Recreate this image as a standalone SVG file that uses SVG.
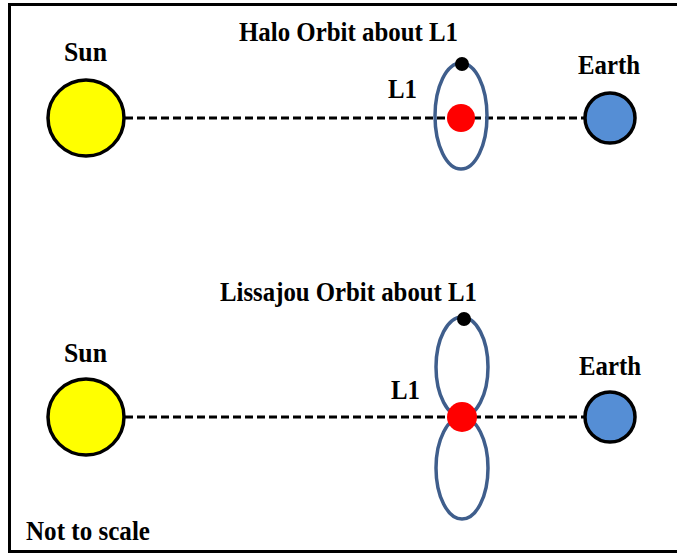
<svg xmlns="http://www.w3.org/2000/svg" width="677" height="554" viewBox="0 0 677 554">
<style>
.t{font-family:"Liberation Serif","Times New Roman",serif;font-weight:bold;fill:#000;font-size:27px}
.sun{fill:#ffff00;stroke:#000;stroke-width:3.5}
.earth{fill:#558ed5;stroke:#000;stroke-width:3.5}
.orb{fill:none;stroke:#3f5e8c;stroke-width:3.5}
.dash{stroke:#000;stroke-width:3;stroke-dasharray:8 4;fill:none}
</style>
<rect x="0" y="0" width="677" height="554" fill="#fff"/>
<rect x="9.5" y="4.5" width="672" height="547" fill="none" stroke="#000" stroke-width="3"/>
<g id="connectors">
<line class="dash" x1="125" y1="118" x2="585" y2="118"/>
<line class="dash" x1="125" y1="417" x2="585" y2="417"/>
</g>
<g id="sun1"><circle class="sun" cx="86" cy="118" r="38"/><text class="t" x="64" y="61" textLength="43" lengthAdjust="spacingAndGlyphs">Sun</text></g>
<g id="earth1"><circle class="earth" cx="610" cy="118" r="25"/><text class="t" x="578" y="74" textLength="62" lengthAdjust="spacingAndGlyphs">Earth</text></g>
<g id="halo">
<text class="t" x="239" y="41" textLength="219" lengthAdjust="spacingAndGlyphs">Halo Orbit about L1</text>
<ellipse class="orb" cx="461" cy="116" rx="26" ry="53"/>
<circle cx="461" cy="118" r="14" fill="#ff0000"/>
<circle cx="462" cy="64" r="7" fill="#000"/>
<text class="t" x="388" y="98" textLength="29" lengthAdjust="spacingAndGlyphs">L1</text>
</g>
<g id="sun2"><circle class="sun" cx="86" cy="417" r="38"/><text class="t" x="64" y="362" textLength="43" lengthAdjust="spacingAndGlyphs">Sun</text></g>
<g id="earth2"><circle class="earth" cx="610" cy="417" r="25"/><text class="t" x="579" y="375" textLength="62" lengthAdjust="spacingAndGlyphs">Earth</text></g>
<g id="lissajou">
<text class="t" x="220" y="301" textLength="257" lengthAdjust="spacingAndGlyphs">Lissajou Orbit about L1</text>
<ellipse class="orb" cx="462" cy="367" rx="26" ry="50"/>
<ellipse class="orb" cx="462" cy="468" rx="26" ry="51"/>
<circle cx="462" cy="417" r="15" fill="#ff0000"/>
<circle cx="464" cy="319" r="7" fill="#000"/>
<text class="t" x="391" y="399" textLength="29" lengthAdjust="spacingAndGlyphs">L1</text>
</g>
<g id="note"><text class="t" x="26" y="540" textLength="124" lengthAdjust="spacingAndGlyphs">Not to scale</text></g>
</svg>
